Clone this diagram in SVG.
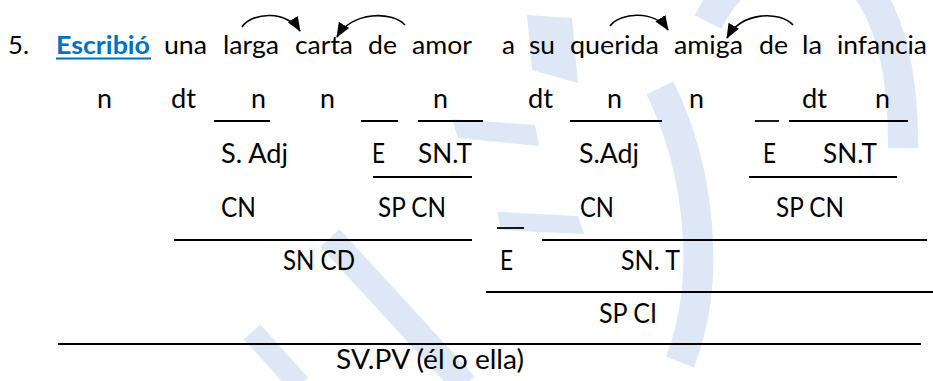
<svg xmlns="http://www.w3.org/2000/svg" width="933" height="381" viewBox="0 0 933 381">
<style>
  text { font-family: Lato, "Open Sans", "Liberation Sans", sans-serif; fill: #000; }
  .s { font-size: 25.5px; }
  .l { font-size: 26px; }
  .b { font-weight: bold; fill: #0070c0; }
  .bar { stroke: #000; stroke-width: 1.8; fill: none; }
  .wm { fill: none; stroke: #dde7f5; }
  .wmf { fill: #dde7f5; }
  .arc { fill: none; stroke: #000; stroke-width: 1.6; }
</style>
<defs>
  <marker id="ah" viewBox="0 0 15 12" refX="14" refY="6" markerWidth="15" markerHeight="12" markerUnits="userSpaceOnUse" orient="auto">
    <path d="M0,0 L15,6 L0,12 z" fill="#000"/>
  </marker>
</defs>
<rect width="933" height="381" fill="#fff"/>
<g id="watermark">
  <polygon class="wmf" points="527,15 572,18 578,83 532,70"/>
  <polygon class="wmf" points="452,119 535,125 539,146 458,138"/>
  <polygon class="wmf" points="498,212 578,216 584,234 500,230"/>
  <path class="wm" stroke-width="30" d="M660,88 C700,170 712,280 680,362"/>
  <path class="wm" stroke-width="30" d="M708,22 C760,-80 905,-90 903,148"/>
  <path class="wm" stroke-width="26" d="M330,238 L465,385"/>
  <path class="wm" stroke-width="22" d="M252,332 L300,385"/>
</g>
<g id="sentence">
  <text class="s" x="8" y="54" textLength="21" lengthAdjust="spacingAndGlyphs">5.</text>
  <text class="s b" x="56" y="54" textLength="94" lengthAdjust="spacingAndGlyphs">Escribió</text>
  <text class="s" x="164" y="54" textLength="43" lengthAdjust="spacingAndGlyphs">una</text>
  <text class="s" x="223" y="54" textLength="56" lengthAdjust="spacingAndGlyphs">larga</text>
  <text class="s" x="295" y="54" textLength="58" lengthAdjust="spacingAndGlyphs">carta</text>
  <text class="s" x="368" y="54" textLength="29" lengthAdjust="spacingAndGlyphs">de</text>
  <text class="s" x="412" y="54" textLength="60" lengthAdjust="spacingAndGlyphs">amor</text>
  <text class="s" x="502" y="54" textLength="13" lengthAdjust="spacingAndGlyphs">a</text>
  <text class="s" x="529" y="54" textLength="26" lengthAdjust="spacingAndGlyphs">su</text>
  <text class="s" x="570" y="54" textLength="89" lengthAdjust="spacingAndGlyphs">querida</text>
  <text class="s" x="674" y="54" textLength="69" lengthAdjust="spacingAndGlyphs">amiga</text>
  <text class="s" x="759" y="54" textLength="29" lengthAdjust="spacingAndGlyphs">de</text>
  <text class="s" x="802" y="54" textLength="20" lengthAdjust="spacingAndGlyphs">la</text>
  <text class="s" x="837" y="54" textLength="90" lengthAdjust="spacingAndGlyphs">infancia</text>
  <line x1="56" y1="58.5" x2="151" y2="58.5" stroke="#0070c0" stroke-width="2"/>
</g>
<g id="row-categories">
  <text class="l" x="97" y="108" textLength="15" lengthAdjust="spacingAndGlyphs">n</text>
  <text class="l" x="171" y="108" textLength="25" lengthAdjust="spacingAndGlyphs">dt</text>
  <text class="l" x="251" y="108" textLength="15" lengthAdjust="spacingAndGlyphs">n</text>
  <text class="l" x="320" y="108" textLength="15" lengthAdjust="spacingAndGlyphs">n</text>
  <text class="l" x="433" y="108" textLength="15" lengthAdjust="spacingAndGlyphs">n</text>
  <text class="l" x="528" y="108" textLength="25" lengthAdjust="spacingAndGlyphs">dt</text>
  <text class="l" x="607" y="108" textLength="15" lengthAdjust="spacingAndGlyphs">n</text>
  <text class="l" x="689" y="108" textLength="15" lengthAdjust="spacingAndGlyphs">n</text>
  <text class="l" x="802" y="108" textLength="25" lengthAdjust="spacingAndGlyphs">dt</text>
  <text class="l" x="875" y="108" textLength="15" lengthAdjust="spacingAndGlyphs">n</text>
</g>
<g id="row-3">
  <text class="l" x="221" y="163" textLength="67" lengthAdjust="spacingAndGlyphs">S. Adj</text>
  <text class="l" x="372" y="163" textLength="13" lengthAdjust="spacingAndGlyphs">E</text>
  <text class="l" x="418" y="163" textLength="54" lengthAdjust="spacingAndGlyphs">SN.T</text>
  <text class="l" x="579" y="163" textLength="60" lengthAdjust="spacingAndGlyphs">S.Adj</text>
  <text class="l" x="763" y="163" textLength="13" lengthAdjust="spacingAndGlyphs">E</text>
  <text class="l" x="823" y="163" textLength="54" lengthAdjust="spacingAndGlyphs">SN.T</text>
</g>
<g id="row-4">
  <text class="l" x="221" y="217" textLength="35" lengthAdjust="spacingAndGlyphs">CN</text>
  <text class="l" x="378" y="217" textLength="68" lengthAdjust="spacingAndGlyphs">SP CN</text>
  <text class="l" x="580" y="217" textLength="34" lengthAdjust="spacingAndGlyphs">CN</text>
  <text class="l" x="776" y="217" textLength="68" lengthAdjust="spacingAndGlyphs">SP CN</text>
</g>
<g id="row-5">
  <text class="l" x="283" y="270" textLength="72" lengthAdjust="spacingAndGlyphs">SN CD</text>
  <text class="l" x="500" y="270" textLength="13" lengthAdjust="spacingAndGlyphs">E</text>
  <text class="l" x="621" y="270" textLength="59" lengthAdjust="spacingAndGlyphs">SN. T</text>
</g>
<g id="row-6">
  <text class="l" x="599" y="323" textLength="58" lengthAdjust="spacingAndGlyphs">SP CI</text>
</g>
<g id="row-7">
  <text class="l" x="336" y="369" textLength="188" lengthAdjust="spacingAndGlyphs">SV.PV (él o ella)</text>
</g>
<g id="connectors">
  <line class="bar" x1="214" y1="121" x2="270" y2="121"/>
  <line class="bar" x1="361" y1="121" x2="398" y2="121"/>
  <line class="bar" x1="418" y1="121" x2="483" y2="121"/>
  <line class="bar" x1="570" y1="121" x2="662" y2="121"/>
  <line class="bar" x1="755" y1="121" x2="779" y2="121"/>
  <line class="bar" x1="789" y1="121" x2="908" y2="121"/>
  <line class="bar" x1="373" y1="177" x2="472" y2="177"/>
  <line class="bar" x1="749" y1="177" x2="897" y2="177"/>
  <line class="bar" x1="497" y1="228" x2="524" y2="228"/>
  <line class="bar" x1="174" y1="240" x2="472" y2="240"/>
  <line class="bar" x1="542" y1="240" x2="927" y2="240"/>
  <line class="bar" x1="486" y1="292" x2="933" y2="292"/>
  <line class="bar" x1="58" y1="344" x2="921" y2="344"/>
  <path class="arc" marker-end="url(#ah)" d="M242,27 C252,12 287,10 300,31"/>
  <path class="arc" marker-end="url(#ah)" d="M405,25 C392,11 352,11 337,37"/>
  <path class="arc" marker-end="url(#ah)" d="M610,26 C620,12 655,10 668,30"/>
  <path class="arc" marker-end="url(#ah)" d="M793,25 C780,11 742,11 727,38"/>
</g>
</svg>
